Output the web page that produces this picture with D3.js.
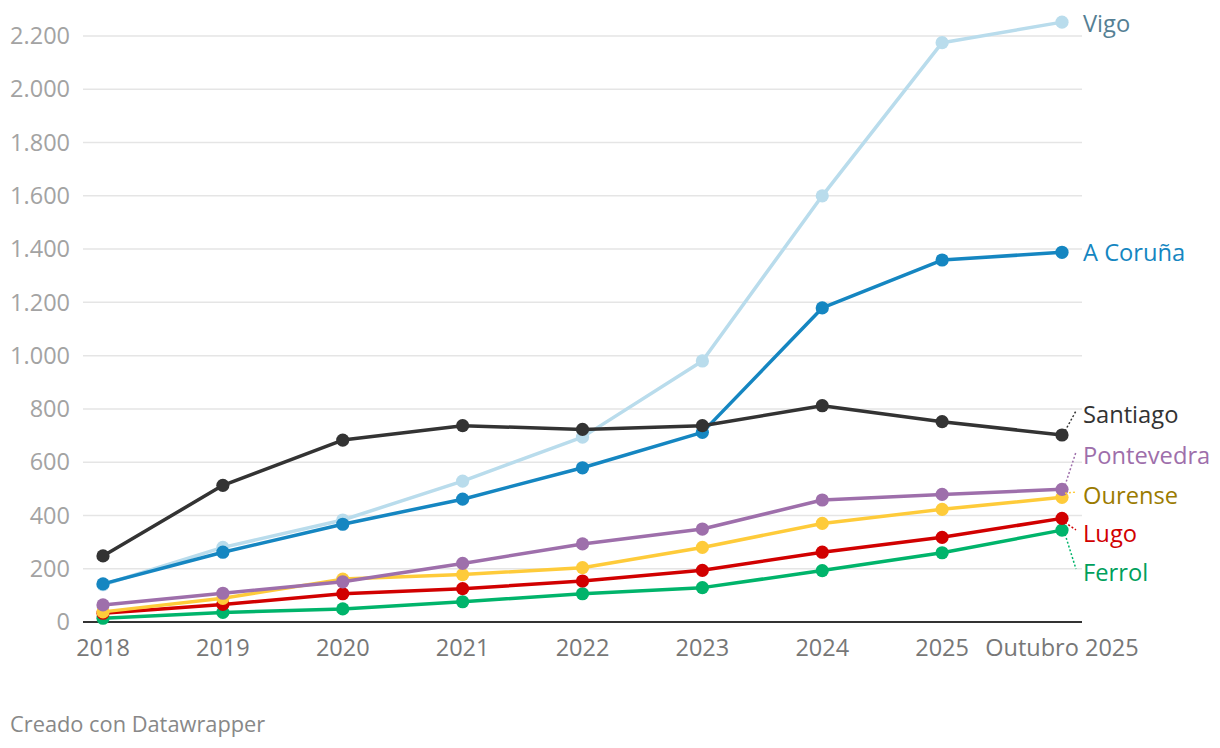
<!DOCTYPE html>
<html><head><meta charset="utf-8">
<script src="https://cdn.jsdelivr.net/npm/d3@7"></script>
<style>
html,body{margin:0;padding:0;background:#fff;}
svg{display:block;font-family:"Open Sans",sans-serif;}
</style></head>
<body><svg id="c" width="1220" height="748"></svg>
<script>
const categories = ["2018","2019","2020","2021","2022","2023","2024","2025","Outubro 2025"];
const yTicks = [0,200,400,600,800,1000,1200,1400,1600,1800,2000,2200];
const vigo      = [140,280,383,529,694,980,1600,2175,2252];
const coruna    = [143,262,367,461,579,712,1179,1359,1388];
const santiago  = [248,513,683,737,723,737,812,752,702];
const pontevedra= [64,108,151,220,293,349,458,479,498];
const ourense   = [38,89,161,178,204,280,370,423,468];
const lugo      = [33,66,106,125,154,194,262,318,389];
const ferrol    = [14,36,49,76,106,129,193,260,345];

const series = [
  {name:"Vigo", values:vigo, color:"#b9dcec", label:"#557f94", ly:24},
  {name:"A Coruña", values:coruna, color:"#1586c1", label:"#1586c1", ly:253},
  {name:"Santiago", values:santiago, color:"#333333", label:"#333333", ly:415, conn:true},
  {name:"Pontevedra", values:pontevedra, color:"#9e6fab", label:"#9e6fab", ly:456, conn:true},
  {name:"Ourense", values:ourense, color:"#fecb3a", label:"#9b7b00", ly:496, conn:true},
  {name:"Lugo", values:lugo, color:"#d10000", label:"#d10000", ly:534, conn:true},
  {name:"Ferrol", values:ferrol, color:"#00b46b", label:"#00a05c", ly:573, conn:true}
];

const svg = d3.select("#c");
const x = d3.scalePoint().domain(categories).range([103,1062]);
const y = d3.scaleLinear().domain([0,2200]).range([622,36]);
const gridL = 83, gridR = 1082;

svg.append("g").selectAll("line").data(yTicks.filter(d=>d>0)).join("line")
  .attr("x1",gridL).attr("x2",gridR).attr("y1",d=>y(d)).attr("y2",d=>y(d))
  .attr("stroke","#e5e5e5").attr("stroke-width",1.5);

const fmt = d => d3.format(",")(d).replace(/,/g,".");
svg.append("g").selectAll("text").data(yTicks).join("text")
  .attr("x",70).attr("y",d=>y(d)).attr("dy","0.35em").attr("text-anchor","end")
  .attr("fill","#a3a3a3").attr("font-size",23.5).text(fmt);

svg.append("line").attr("x1",gridL).attr("x2",gridR).attr("y1",y(0)).attr("y2",y(0))
  .attr("stroke","#333").attr("stroke-width",2);

svg.append("g").selectAll("text").data(categories).join("text")
  .attr("x",d=>x(d)).attr("y",656).attr("text-anchor","middle")
  .attr("fill","#777").attr("font-size",23.5).text(d=>d);

const line = d3.line().x((d,i)=>x(categories[i])).y(d=>y(d));

const order = ["Vigo","Ferrol","Lugo","Ourense","Pontevedra","A Coruña","Santiago"];
order.forEach(n=>{
  const s = series.find(d=>d.name===n);
  const g = svg.append("g");
  g.append("path").attr("d",line(s.values)).attr("fill","none")
    .attr("stroke",s.color).attr("stroke-width",3.5).attr("stroke-linejoin","round");
  g.selectAll("circle").data(s.values).join("circle")
    .attr("cx",(d,i)=>x(categories[i])).attr("cy",d=>y(d)).attr("r",6.6)
    .attr("fill",s.color);
});

const lx = 1083;
const last = categories[categories.length-1];
series.forEach(s=>{
  const py = y(s.values[s.values.length-1]);
  if (s.conn) {
    const tx = lx-7;
    svg.append("line").attr("x1",x(last)+3).attr("y1",py + (s.ly>py?4:-4))
      .attr("x2",tx).attr("y2",s.ly-4)
      .attr("stroke",s.color).attr("stroke-width",1.5).attr("stroke-dasharray","2,2");
  }
  svg.append("text").attr("x",lx).attr("y",s.ly).attr("dy","0.35em")
    .attr("fill",s.label).attr("font-size",23.7).text(s.name);
});

svg.append("text").attr("x",10).attr("y",732).attr("fill","#888").attr("font-size",21.8)
  .text("Creado con Datawrapper");
</script></body></html>
